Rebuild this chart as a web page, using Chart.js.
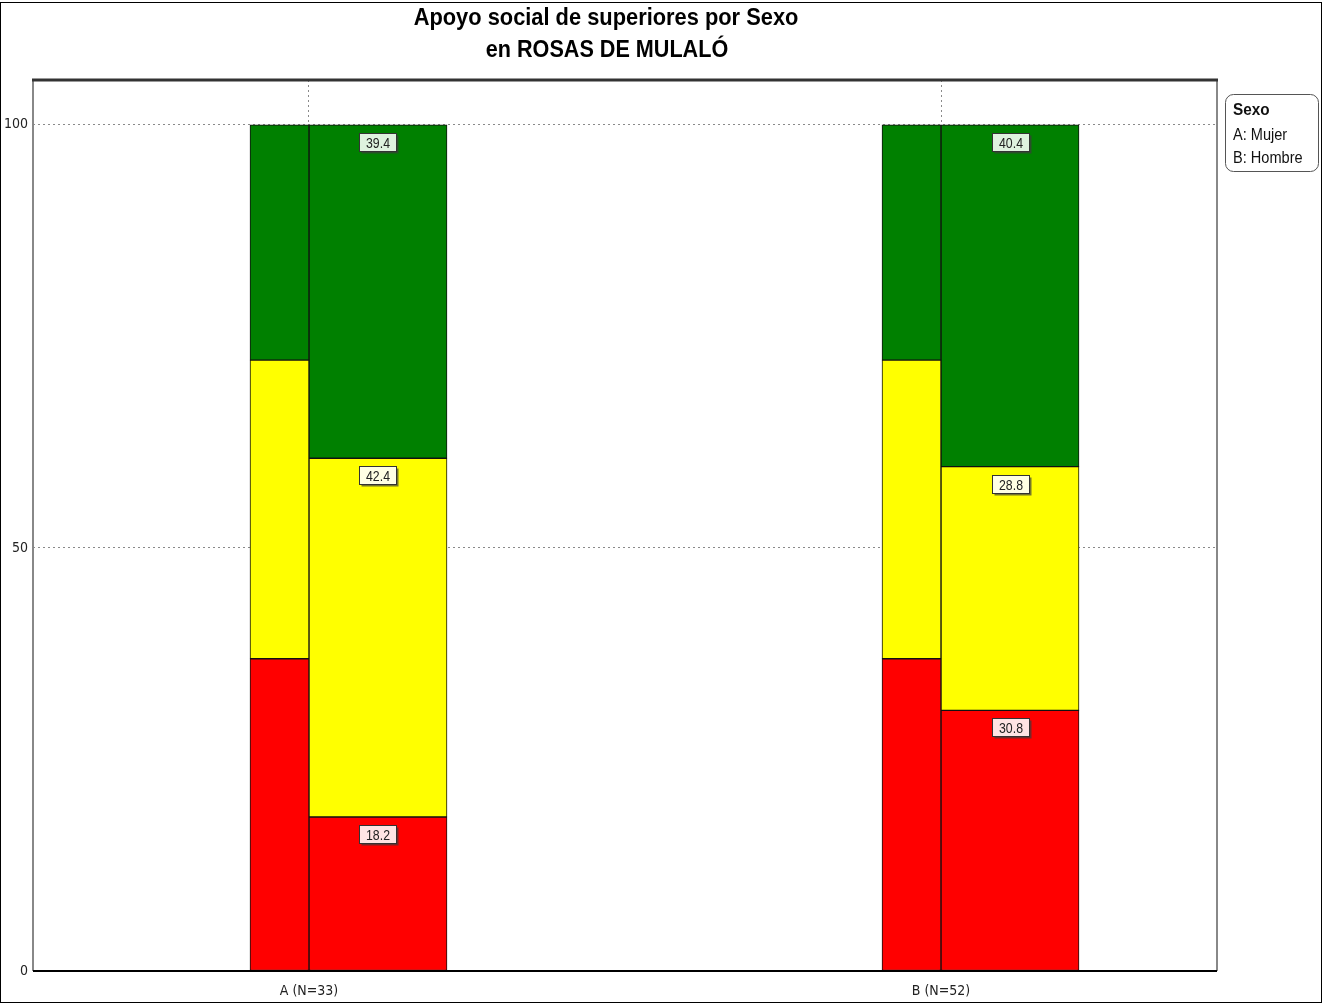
<!DOCTYPE html>
<html>
<head>
<meta charset="utf-8">
<script src="https://cdn.jsdelivr.net/npm/chart.js@4.4.0/dist/chart.umd.min.js"></script>
<style>
html, body { margin: 0; padding: 0; background: #fff; }
#wrap { position: relative; width: 1323px; height: 1004px; }
</style>
</head>
<body>
<div id="wrap"><canvas id="chart"></canvas></div>
<script>
const categories = ['A (N=33)', 'B (N=52)'];
const titleLines = ['Apoyo social de superiores por Sexo', 'en ROSAS DE MULALÓ'];
const legendTitle = 'Sexo';
const legendItems = ['A: Mujer', 'B: Hombre'];
const yTicks = [0, 50, 100];

// reference population (narrow bar at the left of each group)
const refRed = [36.9, 36.9];
const refYellow = [35.3, 35.3];
const refGreen = [27.8, 27.8];

// values per sex (%)
const groupRed = [18.2, 30.8];
const groupYellow = [42.4, 28.8];
const groupGreen = [39.4, 40.4];

const FONT = "'DejaVu Sans Condensed', 'Liberation Sans', sans-serif";
const ARIAL = "'Liberation Sans', Arial, sans-serif";
const RED = '#ff0000', YELLOW = '#ffff00', GREEN = '#008000';

function points(values) {
    return values.map((v, i) => ({ x: i + 1, y: v }));
}

function makeSet(values, color, stack, thickness, labelBg) {
    return {
        data: points(values),
        backgroundColor: color,
        borderColor: '#111',
        borderWidth: 1,
        borderSkipped: false,
        stack,
        barThickness: thickness,
        labelBg,
    };
}

// narrow text, like the Arial Narrow of the original
function narrowText(ctx, txt, x, y, sx) {
    ctx.save();
    ctx.translate(x, y);
    ctx.scale(sx, 1);
    ctx.fillText(txt, 0, 0);
    ctx.restore();
}

const chartFrame = {
    id: 'chartFrame',
    afterDatasetsDraw(chart) {
        const { ctx, chartArea: a } = chart;
        ctx.save();
        ctx.lineWidth = 2;
        ctx.strokeStyle = '#888';
        ctx.beginPath();
        ctx.moveTo(a.left, a.top); ctx.lineTo(a.left, a.bottom);
        ctx.moveTo(a.right, a.top); ctx.lineTo(a.right, a.bottom);
        ctx.stroke();
        ctx.strokeStyle = '#000';
        ctx.beginPath();
        ctx.moveTo(a.left, a.bottom); ctx.lineTo(a.right, a.bottom);
        ctx.stroke();
        ctx.lineWidth = 3;
        ctx.strokeStyle = '#333';
        ctx.beginPath();
        ctx.moveTo(a.left - 1, a.top); ctx.lineTo(a.right + 1, a.top);
        ctx.stroke();

        // outer picture border
        ctx.lineWidth = 1;
        ctx.strokeStyle = '#000';
        ctx.strokeRect(0.5, 2.5, chart.width - 2, chart.height - 4);
        ctx.restore();
    },
    afterDraw(chart) {
        const { ctx } = chart;
        ctx.save();
        // title
        ctx.fillStyle = '#000';
        ctx.font = 'bold 24px ' + ARIAL;
        ctx.textAlign = 'center';
        ctx.textBaseline = 'middle';
        narrowText(ctx, titleLines[0], 606, 18, 0.91);
        narrowText(ctx, titleLines[1], 607, 50, 0.9);

        // value labels on the wide bars
        ctx.font = '15px ' + ARIAL;
        chart.data.datasets.forEach((ds, di) => {
            if (!ds.labelBg) return;
            const meta = chart.getDatasetMeta(di);
            meta.data.forEach((el, i) => {
                const txt = ds.data[i].y.toFixed(1);
                const w = 37;
                const h = 18;
                const x = Math.round(el.x - w / 2) + 0.5;
                const y = Math.round(el.y + 8) + 0.5;
                ctx.fillStyle = 'rgba(60,60,60,0.7)';
                ctx.fillRect(x + 2, y + 2, w, h);
                ctx.fillStyle = ds.labelBg;
                ctx.fillRect(x, y, w, h);
                ctx.strokeStyle = '#333';
                ctx.lineWidth = 1;
                ctx.strokeRect(x, y, w, h);
                ctx.fillStyle = '#222';
                ctx.textAlign = 'center';
                ctx.textBaseline = 'middle';
                narrowText(ctx, txt, x + w / 2, y + h / 2 + 1, 0.82);
            });
        });

        // legend box
        const lx = 1225.5, ly = 94.5, lw = 93, lh = 77, r = 8;
        ctx.beginPath();
        ctx.roundRect(lx, ly, lw, lh, r);
        ctx.fillStyle = '#fff';
        ctx.fill();
        ctx.strokeStyle = '#555';
        ctx.lineWidth = 1;
        ctx.stroke();
        ctx.fillStyle = '#111';
        ctx.textAlign = 'left';
        ctx.textBaseline = 'middle';
        ctx.font = 'bold 17px ' + ARIAL;
        narrowText(ctx, legendTitle, 1233, 110, 0.9);
        ctx.font = '16px ' + ARIAL;
        narrowText(ctx, legendItems[0], 1233, 136, 0.91);
        narrowText(ctx, legendItems[1], 1233, 159, 0.91);
        ctx.restore();
    }
};

const data = {
    datasets: [
        makeSet(refRed, RED, 'ref', 59, null),
        makeSet(refYellow, YELLOW, 'ref', 59, null),
        makeSet(refGreen, GREEN, 'ref', 59, null),
        makeSet(groupRed, RED, 'group', 138, '#ffe4e4'),
        makeSet(groupYellow, YELLOW, 'group', 138, '#ffffe4'),
        makeSet(groupGreen, GREEN, 'group', 138, '#dff2df'),
    ],
};

const options = {
    responsive: true,
    maintainAspectRatio: false,
    animation: false,
    layout: { padding: { left: 0, right: 106, top: 80, bottom: 0 } },
    plugins: {
        legend: { display: false },
        tooltip: { enabled: false },
        title: { display: false },
    },
    scales: {
        x: {
            type: 'linear',
            offset: false,
            min: 0.5633,
            max: 2.4367,
            afterBuildTicks(scale) {
                scale.ticks = categories.map((c, i) => ({ value: i + 1 }));
            },
            afterFit(scale) { scale.height = 33; },
            ticks: {
                callback: (v) => categories[v - 1] ?? '',
                color: '#222',
                font: { family: FONT, size: 14 },
                padding: 12,
                maxRotation: 0,
            },
            grid: {
                offset: false,
                color: '#8a8a8a',
                tickLength: 0,
                drawTicks: false,
            },
            border: { display: false, dash: [2, 3] },
        },
        y: {
            stacked: true,
            min: 0,
            max: 105.3,
            afterBuildTicks(scale) {
                scale.ticks = yTicks.map((v) => ({ value: v }));
            },
            afterFit(scale) { scale.width = 33; },
            ticks: {
                color: '#222',
                font: { family: FONT, size: 14 },
                padding: 5,
            },
            grid: {
                color: (c) => c.tick && c.tick.value === 0 ? 'rgba(0,0,0,0)' : '#8a8a8a',
                drawTicks: false,
            },
            border: { display: false, dash: [2, 3] },
        },
    },
};

new Chart(document.getElementById('chart'), {
    type: 'bar',
    data,
    options,
    plugins: [chartFrame],
});
</script>
</body>
</html>
